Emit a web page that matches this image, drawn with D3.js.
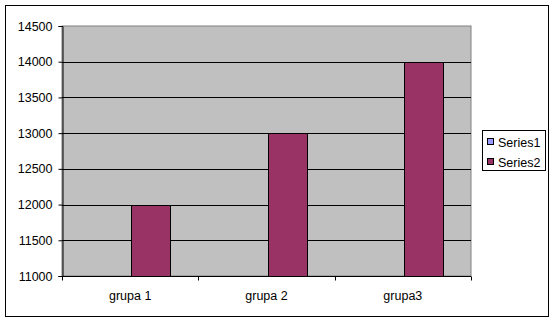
<!DOCTYPE html>
<html><head><meta charset="utf-8">
<script src="https://cdn.jsdelivr.net/npm/d3@7"></script>
<style>body{margin:0;background:#fff}svg{display:block}text{font-family:"Liberation Sans",Arial,sans-serif;font-size:12.5px;fill:#000}</style>
</head><body>
<script>
const categories = ["grupa 1", "grupa 2", "grupa3"];
const seriesNames = ["Series1", "Series2"];
const series1 = [null, null, null];
const series2 = [12000, 13000, 14000];
const yTicks = [11000, 11500, 12000, 12500, 13000, 13500, 14000, 14500];
const colors = ["#9999FF", "#993366"];

const W = 556, H = 323;
const svg = d3.select("body").append("svg").attr("width", W).attr("height", H);
svg.append("rect").attr("x", 5.5).attr("y", 5.5).attr("width", 543).attr("height", 311)
  .attr("fill", "#fff").attr("stroke", "#000").attr("stroke-width", 1);

const L = 62, R = 471, T = 26, B = 276;
const x = d3.scaleBand().domain(categories).range([L, R]).paddingInner(0).paddingOuter(0);
const y = d3.scaleLinear().domain([11000, 14500]).range([B, T]);
const barW = x.bandwidth() / 3.5;
const xs = d3.scaleBand().domain(seriesNames).range([0, barW * 2]);

svg.append("rect").attr("x", L).attr("y", T).attr("width", R - L).attr("height", B - T)
  .attr("fill", "#C0C0C0").attr("stroke", "#808080").attr("stroke-width", 1);

svg.append("g").selectAll("line").data(yTicks.filter(t => t > 11000 && t < 14500)).join("line")
  .attr("x1", L).attr("x2", R).attr("y1", d => Math.round(y(d)) + 0.5).attr("y2", d => Math.round(y(d)) + 0.5)
  .attr("stroke", "#000");

const data = [series1, series2];
data.forEach((vals, si) => {
  svg.append("g").selectAll("rect").data(vals.map((v, i) => ({v, c: categories[i]})).filter(d => d.v != null)).join("rect")
    .attr("x", d => Math.round(x(d.c) + barW * 0.75 + xs(seriesNames[si]) + 1) + 0.5)
    .attr("y", d => Math.round(y(d.v)) + 0.5)
    .attr("width", Math.round(barW))
    .attr("height", d => Math.round(B - y(d.v)))
    .attr("fill", colors[si]).attr("stroke", "#000").attr("stroke-width", 1);
});

const yAxis = d3.axisLeft(y).tickValues(yTicks).tickSize(4).tickPadding(6).tickFormat(d3.format("d"));
const gy = svg.append("g").attr("transform", `translate(${L + 0.5},0)`).call(yAxis);
gy.select(".domain").attr("stroke", "#000");
gy.selectAll(".tick line").attr("stroke", "#000");
gy.selectAll("text").style("font-size", "12.5px");

const xAxis = d3.axisBottom(x).tickSize(0).tickPadding(15);
const gx = svg.append("g").attr("transform", `translate(0,${B + 0.5})`).call(xAxis);
gx.select(".domain").attr("stroke", "#000").attr("d", `M${L},0H${R}`);
gx.selectAll("text").style("font-size", "12.5px");
const bounds = categories.map(c => x(c)).concat([R]);
gx.selectAll(".bt").data(bounds).join("line").attr("class", "bt")
  .attr("x1", d => Math.round(d) + 0.5).attr("x2", d => Math.round(d) + 0.5).attr("y1", 0).attr("y2", 4).attr("stroke", "#000");

const lg = svg.append("g");
lg.append("rect").attr("x", 482.5).attr("y", 130.5).attr("width", 63).attr("height", 40)
  .attr("fill", "#fff").attr("stroke", "#000");
seriesNames.forEach((s, i) => {
  const cy = 142 + i * 20;
  lg.append("rect").attr("x", 487.5).attr("y", cy - 3.5).attr("width", 6).attr("height", 6)
    .attr("fill", colors[i]).attr("stroke", "#000");
  lg.append("text").attr("x", 498).attr("y", cy + 4.5).text(s);
});
</script>
</body></html>
